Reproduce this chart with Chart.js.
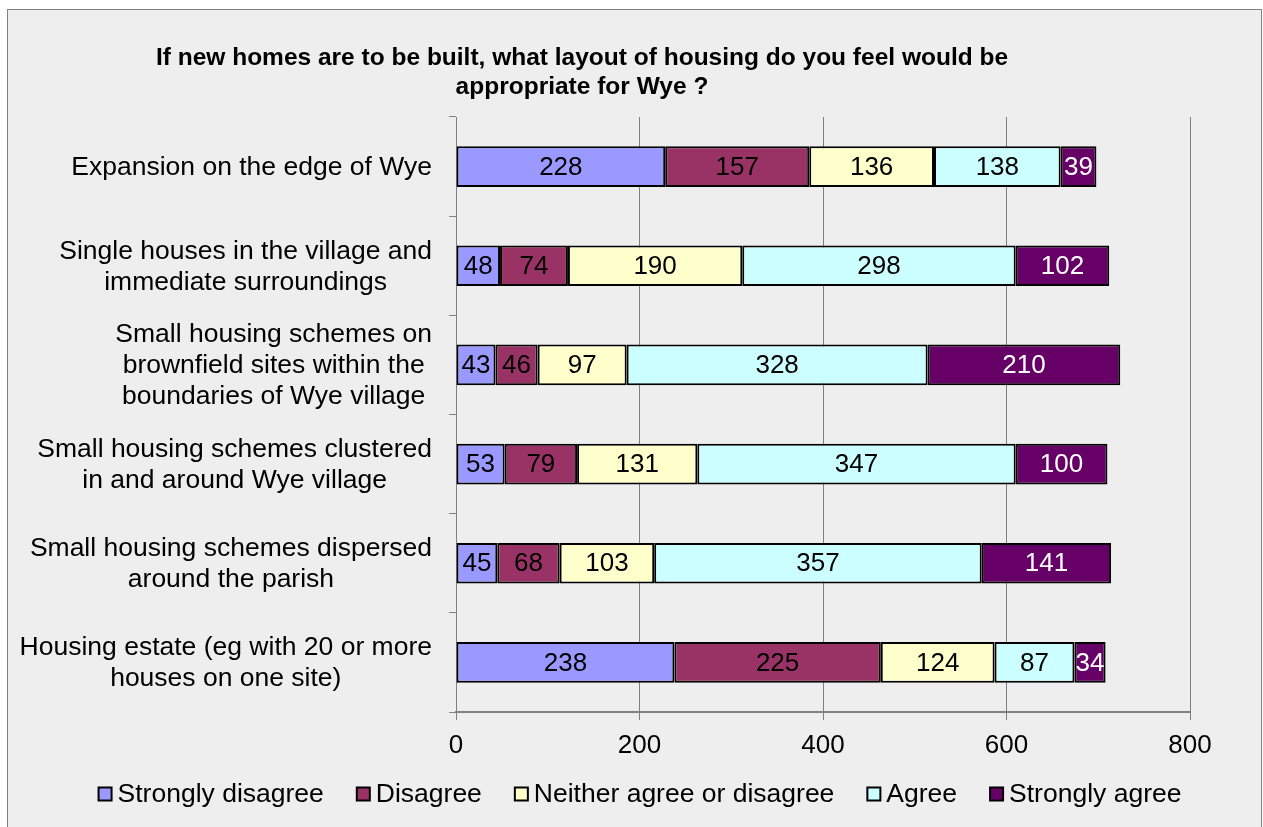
<!DOCTYPE html>
<html>
<head>
<meta charset="utf-8">
<script src="https://cdn.jsdelivr.net/npm/chart.js@4/dist/chart.umd.min.js"></script>
<style>
  html, body { margin: 0; padding: 0; background: #fff; }
  canvas { position: absolute; left: 0; top: 0; }
</style>
</head>
<body>
<canvas id="myChart" width="1263" height="827"></canvas>
<script>
// chart data
var categories = [
  ['Expansion on the edge of Wye'],
  ['Single houses in the village and', 'immediate surroundings'],
  ['Small housing schemes on', 'brownfield sites within the', 'boundaries of Wye village'],
  ['Small housing schemes clustered', 'in and around Wye village'],
  ['Small housing schemes dispersed', 'around the parish'],
  ['Housing estate (eg with 20 or more', 'houses on one site)']
];
var seriesNames = ['Strongly disagree', 'Disagree', 'Neither agree or disagree', 'Agree', 'Strongly agree'];
var stronglyDisagree = [228, 48, 43, 53, 45, 238];
var disagree = [157, 74, 46, 79, 68, 225];
var neither = [136, 190, 97, 131, 103, 124];
var agree = [138, 298, 328, 347, 357, 87];
var stronglyAgree = [39, 102, 210, 100, 141, 34];
var xTicks = [0, 200, 400, 600, 800];
var titleLines = ['If new homes are to be built, what layout of housing do you feel would be', 'appropriate for Wye ?'];

var colors = ['#9999FF', '#993366', '#FFFFCC', '#CCFFFF', '#660066'];
var labelColors = ['#000', '#000', '#000', '#000', '#fff'];
var FONT = '"Liberation Sans", Arial, sans-serif';

// grey panel with border
var background = {
  id: 'background',
  beforeDraw: function(chart) {
    var ctx = chart.ctx;
    ctx.save();
    ctx.fillStyle = '#fff';
    ctx.fillRect(0, 0, chart.width, chart.height);
    ctx.fillStyle = '#eeeeee';
    ctx.fillRect(8, 10, 1253, chart.height);
    ctx.strokeStyle = '#808080';
    ctx.lineWidth = 1;
    ctx.strokeRect(7.5, 9.5, 1254, chart.height + 10);
    ctx.restore();
  }
};

// category labels: block right-aligned, lines centered inside it
var yLabels = {
  id: 'yLabels',
  afterDraw: function(chart) {
    var ctx = chart.ctx;
    var yScale = chart.scales.y;
    ctx.save();
    ctx.font = '26.5px ' + FONT;
    ctx.fillStyle = '#000';
    ctx.textAlign = 'center';
    ctx.textBaseline = 'middle';
    categories.forEach(function(lines, i) {
      var y = yScale.getPixelForTick(i);
      var w = Math.max.apply(null, lines.map(function(l) { return ctx.measureText(l).width; }));
      var cx = 432 - w / 2;
      lines.forEach(function(l, j) {
        ctx.fillText(l, cx, y + 1 + (j - (lines.length - 1) / 2) * 31);
      });
    });
    ctx.restore();
  }
};

// values inside the bars
var barLabels = {
  id: 'barLabels',
  afterDatasetsDraw: function(chart) {
    var ctx = chart.ctx;
    ctx.save();
    ctx.font = '26px ' + FONT;
    ctx.textAlign = 'center';
    ctx.textBaseline = 'middle';
    chart.data.datasets.forEach(function(ds, di) {
      ctx.fillStyle = labelColors[di];
      chart.getDatasetMeta(di).data.forEach(function(bar, i) {
        ctx.fillText(ds.data[i], (bar.x + bar.base) / 2, bar.y + 1);
      });
    });
    ctx.restore();
  }
};

var titleAndLegend = {
  id: 'titleAndLegend',
  afterDraw: function(chart) {
    var ctx = chart.ctx;
    ctx.save();
    ctx.fillStyle = '#000';
    ctx.textBaseline = 'middle';
    ctx.textAlign = 'center';
    ctx.font = 'bold 24.5px ' + FONT;
    ctx.fillText(titleLines[0], 582, 58);
    ctx.fillText(titleLines[1], 582, 87);

    ctx.font = '26.5px ' + FONT;
    ctx.textAlign = 'left';
    var box = 13, gap = 6, spacing = 33;
    var widths = seriesNames.map(function(n) { return ctx.measureText(n).width; });
    var total = widths.reduce(function(a, w) { return a + box + gap + w; }, 0) + spacing * (seriesNames.length - 1);
    var x = 640 - total / 2, y = 794;
    seriesNames.forEach(function(n, i) {
      ctx.fillStyle = colors[i];
      ctx.fillRect(x, y - box / 2, box, box);
      ctx.strokeStyle = '#000';
      ctx.lineWidth = 2;
      ctx.strokeRect(x, y - box / 2, box, box);
      ctx.fillStyle = '#000';
      ctx.fillText(n, x + box + gap, y + 1);
      x += box + gap + widths[i] + spacing;
    });
    ctx.restore();
  }
};

var seriesData = [stronglyDisagree, disagree, neither, agree, stronglyAgree];

var ctx = document.getElementById('myChart').getContext('2d');
var myChart = new Chart(ctx, {
  type: 'bar',
  data: {
    labels: categories,
    datasets: seriesNames.map(function(name, i) {
      return {
        label: name,
        data: seriesData[i],
        backgroundColor: colors[i],
        borderColor: '#000',
        borderWidth: 2,
        borderSkipped: false,
        barPercentage: 0.41,
        categoryPercentage: 1
      };
    })
  },
  options: {
    indexAxis: 'y',
    responsive: false,
    animation: false,
    devicePixelRatio: 1,
    layout: { padding: { left: 0, right: 73, top: 117, bottom: 55 } },
    plugins: {
      legend: { display: false },
      title: { display: false },
      tooltip: { enabled: false }
    },
    scales: {
      x: {
        stacked: true,
        min: 0,
        max: 800,
        afterBuildTicks: function(scale) {
          scale.ticks = xTicks.map(function(v) { return { value: v }; });
        },
        afterFit: function(scale) { scale.height = 60; },
        ticks: { color: '#000', font: { family: FONT, size: 26 }, padding: 10, maxRotation: 0 },
        grid: { color: '#808080', lineWidth: 1, tickLength: 8 },
        border: { color: '#808080', width: 2 }
      },
      y: {
        stacked: true,
        afterFit: function(scale) { scale.width = 456; },
        ticks: { display: false },
        grid: { offset: true, drawOnChartArea: false, color: '#808080', tickLength: 7 },
        border: { color: '#808080', width: 1 }
      }
    }
  },
  plugins: [background, yLabels, barLabels, titleAndLegend]
});
</script>
</body>
</html>
